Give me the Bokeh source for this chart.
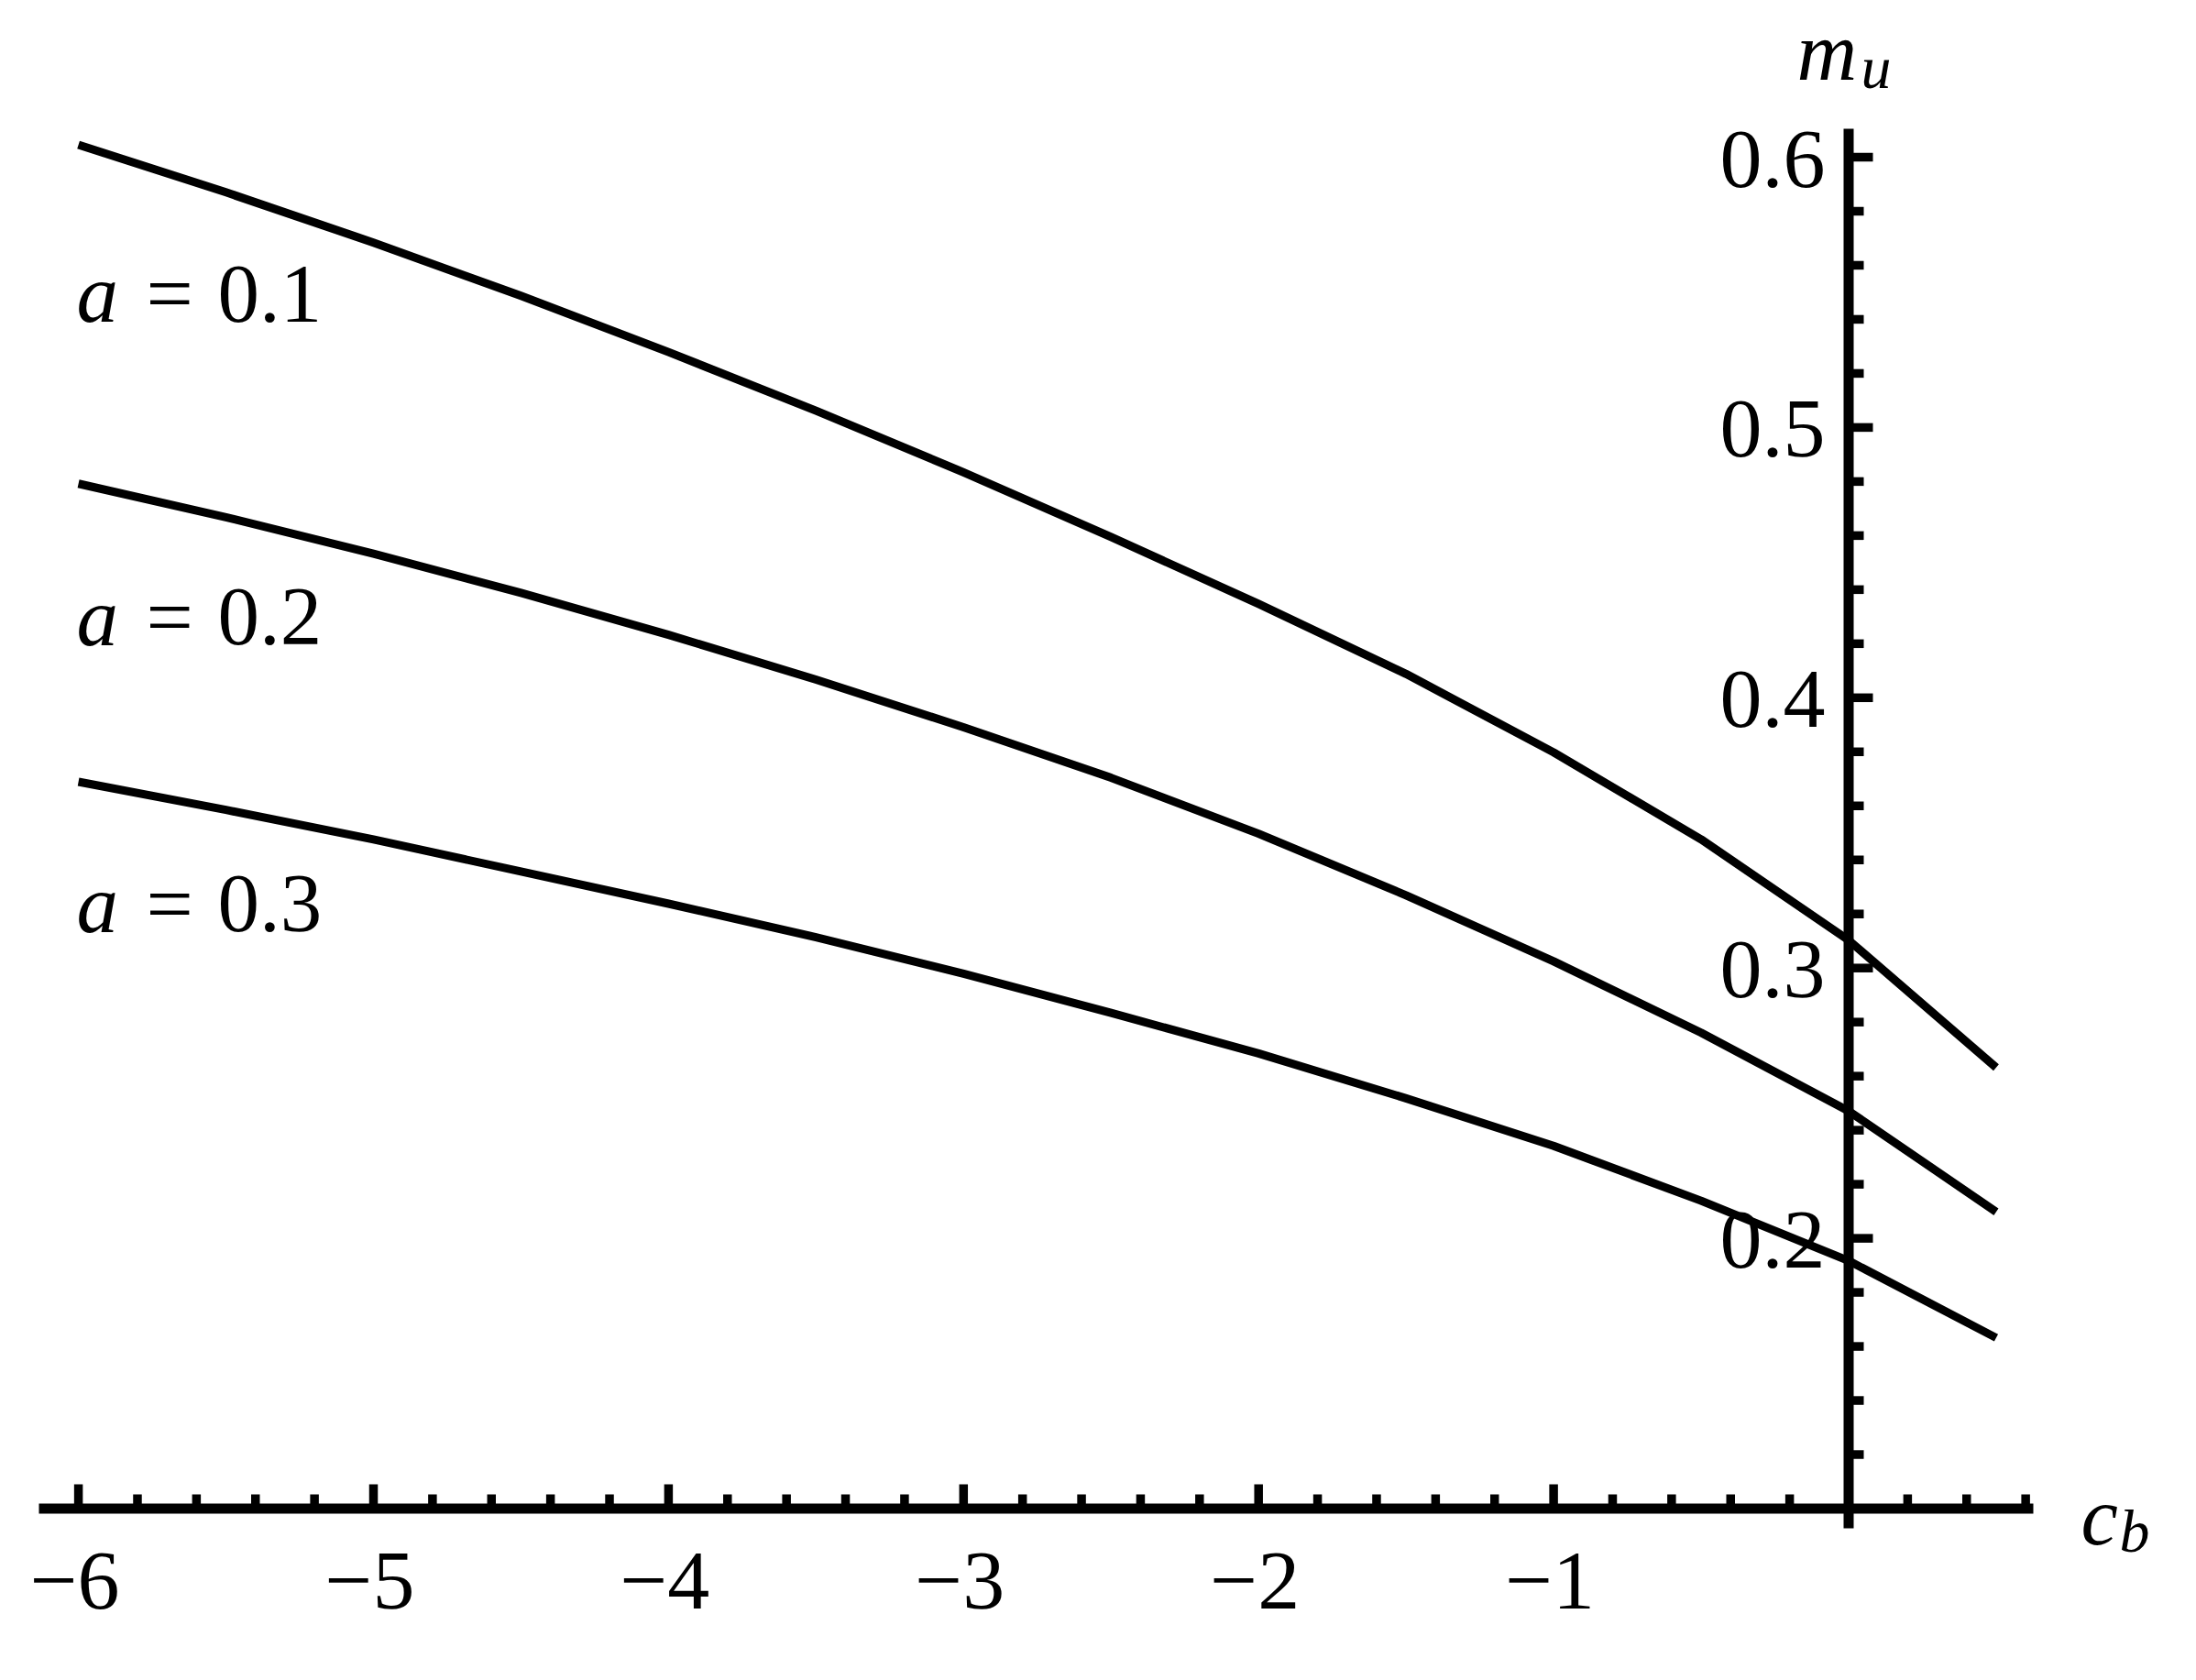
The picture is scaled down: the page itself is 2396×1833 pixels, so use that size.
import numpy as np
from bokeh.plotting import figure
from bokeh.models import Range1d
from bokeh.core.properties import value
from bokeh.embed import file_html
from bokeh.resources import INLINE

# ---------------- data ----------------
cb = [-6.0, -5.5, -5.0, -4.5, -4.0, -3.5, -3.0, -2.5, -2.0, -1.5, -1.0, -0.5, 0.0, 0.5]
mu_a01 = [0.6046, 0.5870, 0.5684, 0.5487, 0.5279, 0.5062, 0.4834, 0.4595, 0.4347,
          0.4088, 0.3798, 0.3476, 0.3103, 0.2632]
mu_a02 = [0.4792, 0.4668, 0.4533, 0.4388, 0.4233, 0.4067, 0.3891, 0.3704, 0.3497,
          0.3269, 0.3025, 0.2761, 0.2471, 0.2098]
mu_a03 = [0.3689, 0.3585, 0.3476, 0.3357, 0.3238, 0.3114, 0.2979, 0.2834, 0.2684,
          0.2518, 0.2342, 0.2139, 0.1917, 0.1632]
a_values = ["0.1", "0.2", "0.3"]
label_y = [0.5393, 0.4196, 0.3135]
x_major = [-6, -5, -4, -3, -2, -1]
x_major_labels = ["\u22126", "\u22125", "\u22124", "\u22123", "\u22122", "\u22121"]
y_major = [0.2, 0.3, 0.4, 0.5, 0.6]
y_major_labels = ["0.2", "0.3", "0.4", "0.5", "0.6"]

# ---------------- geometry ----------------
W, H = 2380, 1817
MARGIN = 0
X0_PX, X_SCALE = 2016.5, 321.9     # page px of x=0, px per unit
Y01_PX, Y_SCALE = 1645.5, 2949.0   # page px of y=0.1, px per unit
Y_ORIGIN = 0.1
TXT_DY = -30                       # baseline correction for svg text

def dx(px):
    return px / X_SCALE

def dy(px):
    return px / Y_SCALE

def xpage(px):
    return (px - X0_PX) / X_SCALE

def ypage(py):
    return Y_ORIGIN + (Y01_PX - py) / Y_SCALE

p = figure(width=W, height=H,
           x_range=Range1d(xpage(MARGIN), xpage(MARGIN + W)),
           y_range=Range1d(ypage(MARGIN + H), ypage(MARGIN)),
           x_axis_type=None, y_axis_type=None,
           output_backend="svg", toolbar_location=None, min_border=0)
p.grid.visible = False
p.outline_line_color = None
p.background_fill_color = "white"
p.border_fill_color = "white"

FONT = "Liberation Serif"
BLACK = "#000000"

# ---------------- curves ----------------
for ys in (mu_a01, mu_a02, mu_a03):
    p.line(cb, ys, line_color=BLACK, line_width=9, line_join="round", line_cap="butt")

# ---------------- axes ----------------
p.segment(x0=[xpage(42)], y0=[Y_ORIGIN], x1=[xpage(2218)], y1=[Y_ORIGIN],
          line_color=BLACK, line_width=11, line_cap="butt")
p.segment(x0=[0], y0=[ypage(1667)], x1=[0], y1=[ypage(140)],
          line_color=BLACK, line_width=11, line_cap="butt")

# x ticks
x_minor = [round(v, 2) for v in np.arange(-6.0, 0.61, 0.2)]
x_minor = [v for v in x_minor if abs(v - round(v)) > 1e-6]
p.segment(x0=x_major, y0=[Y_ORIGIN] * len(x_major), x1=x_major,
          y1=[Y_ORIGIN + dy(26.5)] * len(x_major), line_color=BLACK, line_width=9.5, line_cap="butt")
p.segment(x0=x_minor, y0=[Y_ORIGIN] * len(x_minor), x1=x_minor,
          y1=[Y_ORIGIN + dy(15.5)] * len(x_minor), line_color=BLACK, line_width=9.5, line_cap="butt")

# y ticks
y_minor = [round(v, 2) for v in np.arange(0.12, 0.601, 0.02)]
y_minor = [v for v in y_minor if abs(v * 10 - round(v * 10)) > 1e-6]
p.segment(x0=[0] * len(y_major), y0=y_major, x1=[dx(26.5)] * len(y_major), y1=y_major,
          line_color=BLACK, line_width=9.5, line_cap="butt")
p.segment(x0=[0] * len(y_minor), y0=y_minor, x1=[dx(16.5)] * len(y_minor), y1=y_minor,
          line_color=BLACK, line_width=9.5, line_cap="butt")

# tick labels
p.text(x=x_major, y=[ypage(1751)] * len(x_major), text=x_major_labels,
       text_font=value(FONT), text_font_size="92px", text_color=BLACK,
       text_align="center", text_baseline="alphabetic", x_offset=-4, y_offset=TXT_DY + 3)
p.text(x=[xpage(1994)] * len(y_major), y=y_major, text=y_major_labels,
       text_font=value(FONT), text_font_size="92px", text_color=BLACK,
       text_align="right", text_baseline="alphabetic", x_offset=-3, y_offset=32 + TXT_DY)

# curve labels
n = len(a_values)
p.text(x=[cb[0]] * n, y=label_y, text=["a"] * n,
       text_font=value(FONT), text_font_style="italic", text_font_size="91px",
       text_color=BLACK, text_align="left", text_baseline="alphabetic",
       x_offset=-2, y_offset=TXT_DY)
p.text(x=[cb[0]] * n, y=label_y, text=["="] * n,
       text_font=value(FONT), text_font_size="91px",
       text_color=BLACK, text_align="left", text_baseline="alphabetic",
       x_offset=74, y_offset=TXT_DY)
p.text(x=[cb[0]] * n, y=label_y, text=a_values,
       text_font=value(FONT), text_font_size="91px",
       text_color=BLACK, text_align="left", text_baseline="alphabetic",
       x_offset=152, y_offset=TXT_DY)

# axis labels
p.text(x=[xpage(1960)], y=[ypage(80)], text=["m"],
       text_font=value(FONT), text_font_style="italic", text_font_size="91px",
       text_color=BLACK, text_align="left", text_baseline="alphabetic", y_offset=TXT_DY + 6)
p.text(x=[xpage(2030)], y=[ypage(97)], text=["u"],
       text_font=value(FONT), text_font_style="italic", text_font_size="66px",
       text_color=BLACK, text_align="left", text_baseline="alphabetic", y_offset=TXT_DY + 6)
p.text(x=[xpage(2270)], y=[ypage(1681)], text=["c"],
       text_font=value(FONT), text_font_style="italic", text_font_size="91px",
       text_color=BLACK, text_align="left", text_baseline="alphabetic", y_offset=TXT_DY + 3)
p.text(x=[xpage(2312)], y=[ypage(1697)], text=["b"],
       text_font=value(FONT), text_font_style="italic", text_font_size="66px",
       text_color=BLACK, text_align="left", text_baseline="alphabetic", y_offset=TXT_DY + 3)

open("out.html", "w").write(file_html(p, INLINE))
